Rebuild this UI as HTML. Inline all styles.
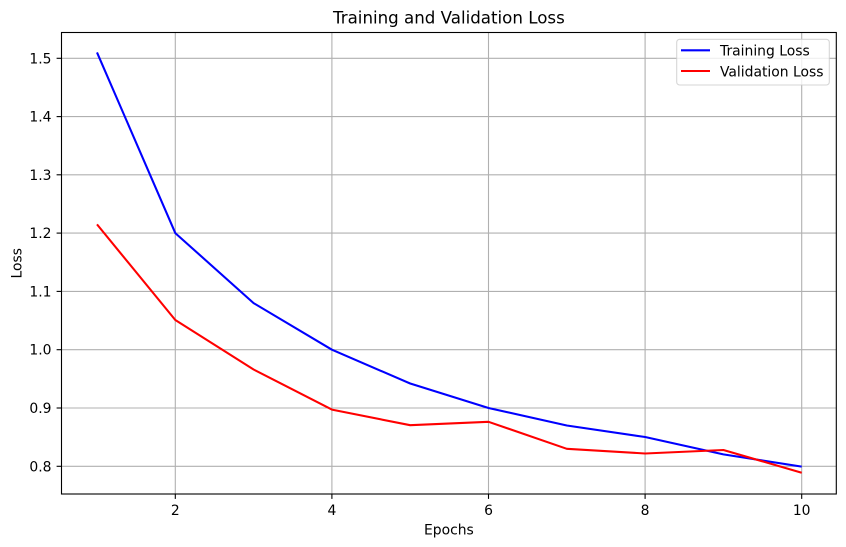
<!DOCTYPE html>
<html>
<head>
<meta charset="utf-8">
<style>
  html, body { margin: 0; padding: 0; background: #ffffff; }
  svg { display: block; }
  text { font-family: "DejaVu Sans", "Liberation Sans", sans-serif; fill: #000; }
</style>
</head>
<body>
<svg width="846" height="547" viewBox="0 0 846 547" xmlns="http://www.w3.org/2000/svg">
  <rect x="0" y="0" width="846" height="547" fill="#ffffff"/>
  <!-- grid -->
  <g stroke="#b0b0b0" stroke-width="1.1" fill="none">
    <line x1="175.3" y1="32.5" x2="175.3" y2="494"/>
    <line x1="331.9" y1="32.5" x2="331.9" y2="494"/>
    <line x1="488.5" y1="32.5" x2="488.5" y2="494"/>
    <line x1="645.1" y1="32.5" x2="645.1" y2="494"/>
    <line x1="801.7" y1="32.5" x2="801.7" y2="494"/>
    <line x1="61.5" y1="466.3" x2="836.3" y2="466.3"/>
    <line x1="61.5" y1="408.0" x2="836.3" y2="408.0"/>
    <line x1="61.5" y1="349.7" x2="836.3" y2="349.7"/>
    <line x1="61.5" y1="291.4" x2="836.3" y2="291.4"/>
    <line x1="61.5" y1="233.1" x2="836.3" y2="233.1"/>
    <line x1="61.5" y1="174.8" x2="836.3" y2="174.8"/>
    <line x1="61.5" y1="116.6" x2="836.3" y2="116.6"/>
    <line x1="61.5" y1="58.3" x2="836.3" y2="58.3"/>
  </g>
  <!-- series -->
  <polyline fill="none" stroke="#0000ff" stroke-width="2.08" stroke-linejoin="round"
    points="97.0,52.4 175.3,233.1 253.6,303.1 331.9,349.7 410.2,383.5 488.5,408.0 566.8,425.5 645.1,437.0 723.4,454.4 801.7,466.6"/>
  <polyline fill="none" stroke="#ff0000" stroke-width="2.08" stroke-linejoin="round"
    points="97.0,224.4 175.3,320.0 253.6,369.5 331.9,409.6 410.2,425.2 488.5,421.8 566.8,448.8 645.1,453.5 723.4,450.0 801.7,472.7"/>
  <!-- spines -->
  <rect x="61.5" y="32.5" width="774.8" height="461.5" fill="none" stroke="#000" stroke-width="1.1"/>
  <!-- ticks -->
  <g stroke="#000" stroke-width="1.1">
    <line x1="175.3" y1="494" x2="175.3" y2="498.9"/>
    <line x1="331.9" y1="494" x2="331.9" y2="498.9"/>
    <line x1="488.5" y1="494" x2="488.5" y2="498.9"/>
    <line x1="645.1" y1="494" x2="645.1" y2="498.9"/>
    <line x1="801.7" y1="494" x2="801.7" y2="498.9"/>
    <line x1="56.6" y1="466.3" x2="61.5" y2="466.3"/>
    <line x1="56.6" y1="408.0" x2="61.5" y2="408.0"/>
    <line x1="56.6" y1="349.7" x2="61.5" y2="349.7"/>
    <line x1="56.6" y1="291.4" x2="61.5" y2="291.4"/>
    <line x1="56.6" y1="233.1" x2="61.5" y2="233.1"/>
    <line x1="56.6" y1="174.8" x2="61.5" y2="174.8"/>
    <line x1="56.6" y1="116.6" x2="61.5" y2="116.6"/>
    <line x1="56.6" y1="58.3" x2="61.5" y2="58.3"/>
  </g>
  <!-- x tick labels -->
  <g font-size="13.9" text-anchor="middle">
    <text x="175.3" y="515">2</text>
    <text x="331.9" y="515">4</text>
    <text x="488.5" y="515">6</text>
    <text x="645.1" y="515">8</text>
    <text x="801.7" y="515">10</text>
  </g>
  <!-- y tick labels -->
  <g font-size="13.9" text-anchor="end">
    <text x="51.5" y="471.3">0.8</text>
    <text x="51.5" y="413.0">0.9</text>
    <text x="51.5" y="354.7">1.0</text>
    <text x="51.5" y="296.4">1.1</text>
    <text x="51.5" y="238.1">1.2</text>
    <text x="51.5" y="179.8">1.3</text>
    <text x="51.5" y="121.6">1.4</text>
    <text x="51.5" y="63.3">1.5</text>
  </g>
  <!-- axis labels -->
  <text x="448.9" y="534.3" font-size="13.9" text-anchor="middle">Epochs</text>
  <text x="0" y="0" font-size="13.9" text-anchor="middle" transform="translate(21.6,263.3) rotate(-90)">Loss</text>
  <!-- title -->
  <text x="448.9" y="23.5" font-size="16.67" text-anchor="middle">Training and Validation Loss</text>
  <!-- legend -->
  <rect x="676.7" y="39.3" width="152.6" height="45.7" rx="3" ry="3" fill="#ffffff" fill-opacity="0.8" stroke="#cccccc" stroke-opacity="0.8" stroke-width="1.1"/>
  <line x1="681" y1="50.3" x2="710" y2="50.3" stroke="#0000ff" stroke-width="2.08"/>
  <line x1="681" y1="71" x2="710" y2="71" stroke="#ff0000" stroke-width="2.08"/>
  <text x="720" y="55.6" font-size="13.9">Training Loss</text>
  <text x="720" y="76.4" font-size="13.9">Validation Loss</text>
</svg>
</body>
</html>
